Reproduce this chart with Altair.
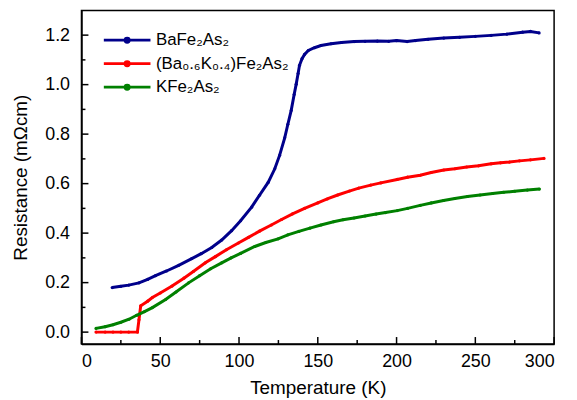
import altair as alt
import pandas as pd

# ---- data ----
ba_T = [19.5, 25, 30, 36.5, 42, 47, 54, 61.7, 70, 76, 82.7, 89, 95.3, 101, 108, 113, 118.5,
        122.7, 125.8, 129, 131, 133.1, 135, 136.3, 137.5, 138.4, 140, 141.6, 144, 147.9, 152,
        158.4, 165, 173.1, 180, 187.8, 195, 200, 206.7, 212, 220, 230, 240, 250, 260, 270,
        280, 285, 290.5]
ba_R = [0.180, 0.185, 0.190, 0.199, 0.213, 0.228, 0.247, 0.270, 0.297, 0.317, 0.342, 0.372,
        0.410, 0.450, 0.505, 0.553, 0.605, 0.660, 0.715, 0.785, 0.840, 0.895, 0.960, 1.002,
        1.045, 1.078, 1.105, 1.122, 1.138, 1.149, 1.158, 1.165, 1.170, 1.174, 1.175, 1.176,
        1.175, 1.178, 1.174, 1.178, 1.183, 1.188, 1.191, 1.195, 1.199, 1.204, 1.212, 1.215,
        1.209]

bk_T = [9.2, 15, 20, 25, 30, 35.5, 36.5, 37.6, 42, 45, 50, 57.5, 65, 71, 78.6, 85, 92, 99.6,
        106, 113, 120.5, 127, 134, 141.6, 150, 156, 162.6, 170, 176, 183.6, 190, 200.4, 207,
        215, 222, 230, 237, 244.5, 252, 260, 266, 271.6, 278, 285, 293.6]
bk_R = [0.0, 0.0, 0.0, 0.0, 0.0, 0.0, 0.05, 0.106, 0.125, 0.140, 0.158, 0.186, 0.218, 0.245,
        0.280, 0.305, 0.333, 0.360, 0.383, 0.408, 0.433, 0.455, 0.478, 0.500, 0.522, 0.538,
        0.554, 0.570, 0.582, 0.594, 0.603, 0.617, 0.626, 0.634, 0.645, 0.655, 0.660, 0.667,
        0.672, 0.680, 0.684, 0.687, 0.692, 0.696, 0.702]

k_T = [9.2, 15, 20, 25, 30.2, 35, 40, 45, 53.4, 60, 68, 75, 82, 89, 95, 101, 110, 117, 124.8,
       131, 138, 145, 152, 160, 166, 173, 180, 187, 193, 200.4, 207, 215, 222, 229.8, 237,
       245, 253, 261, 268, 275, 283, 290.7]
k_R = [0.015, 0.022, 0.030, 0.040, 0.052, 0.068, 0.083, 0.099, 0.132, 0.162, 0.199, 0.228,
       0.256, 0.280, 0.300, 0.318, 0.346, 0.362, 0.377, 0.393, 0.407, 0.420, 0.433, 0.446,
       0.454, 0.461, 0.469, 0.477, 0.483, 0.491, 0.500, 0.512, 0.522, 0.532, 0.540, 0.548,
       0.554, 0.560, 0.565, 0.569, 0.574, 0.578]

series_names = ["BaFe₂As₂", "(Ba₀.₆K₀.₄)Fe₂As₂", "KFe₂As₂"]
series_colors = ["#00008B", "#FF0000", "#008000"]

x_major = [0, 50, 100, 150, 200, 250, 300]
x_minor = [25, 75, 125, 175, 225, 275]
y_major = [0.0, 0.2, 0.4, 0.6, 0.8, 1.0, 1.2]
y_minor = [0.1, 0.3, 0.5, 0.7, 0.9, 1.1]

# ---- build table ----
rows = []
for name, T, R in zip(series_names, [ba_T, bk_T, k_T], [ba_R, bk_R, k_R]):
    for t, r in zip(T, R):
        rows.append({"T": t, "R": r, "series": name, "order": series_names.index(name)})
df = pd.DataFrame(rows)

W, H = 476, 336
FONT = "Liberation Sans"

xscale = alt.Scale(domain=[0, 300], nice=False, zero=False)
yscale = alt.Scale(domain=[-0.048, 1.3], nice=False, zero=False)

axis_style = dict(labelFont=FONT, labelFontSize=18, labelColor="black",
                  titleFont=FONT, titleFontSize=19, titleFontWeight="normal",
                  titleColor="black", domainColor="black", domainWidth=1.5,
                  ticks=False, tickSize=0, grid=False)

color = alt.Color(
    "series:N",
    scale=alt.Scale(domain=series_names, range=series_colors),
    sort=series_names,
    legend=alt.Legend(
        title=None,
        orient="none",
        legendX=21,
        legendY=19,
        padding=0,
        symbolType="M-1,0H1M0.09,0A0.09,0.09,0,1,1,-0.09,0A0.09,0.09,0,1,1,0.09,0",
        symbolSize=2209,
        symbolStrokeWidth=2.8,
        symbolOffset=0,
        clipHeight=22,
        rowPadding=1.7,
        labelOffset=4,
        labelFont=FONT,
        labelFontSize=17,
        labelColor="black",
        labelLimit=400,
    ),
)

base = alt.Chart(df)

lines = base.mark_line(strokeWidth=3).encode(
    x=alt.X("T:Q", scale=xscale,
            axis=alt.Axis(title="Temperature (K)", values=x_major, labelPadding=9,
                          titlePadding=8, **axis_style)),
    y=alt.Y("R:Q", scale=yscale,
            axis=alt.Axis(title="Resistance  (mΩcm)", values=y_major, format=".1f",
                          labelPadding=12, titlePadding=14, **axis_style)),
    color=color,
    detail="order:O",
)

pts = base.mark_circle(size=10, opacity=1).encode(
    x=alt.X("T:Q", scale=xscale),
    y=alt.Y("R:Q", scale=yscale),
    color=alt.Color("series:N", scale=alt.Scale(domain=series_names, range=series_colors),
                    legend=None),
)

xt_major = alt.Chart(pd.DataFrame({"tx": x_major})).mark_rule(
    color="black", strokeWidth=1.5).encode(
    x=alt.X("tx:Q", scale=xscale), y=alt.value(H), y2=alt.value(H - 7))
xt_minor = alt.Chart(pd.DataFrame({"tm": x_minor})).mark_rule(
    color="black", strokeWidth=1.5).encode(
    x=alt.X("tm:Q", scale=xscale), y=alt.value(H), y2=alt.value(H - 4))
yt_major = alt.Chart(pd.DataFrame({"vy": y_major})).mark_rule(
    color="black", strokeWidth=1.5).encode(
    y=alt.Y("vy:Q", scale=yscale), x=alt.value(0), x2=alt.value(7))
yt_minor = alt.Chart(pd.DataFrame({"vm": y_minor})).mark_rule(
    color="black", strokeWidth=1.5).encode(
    y=alt.Y("vm:Q", scale=yscale), x=alt.value(0), x2=alt.value(4))

chart = alt.layer(xt_major, xt_minor, yt_major, yt_minor, lines, pts).properties(
    width=W,
    height=H,
    autosize="none",
    background="white",
    padding={"left": 74, "top": 1, "right": 15, "bottom": 55},
).configure_view(
    stroke="black", strokeWidth=1.5
)

chart.save("out.html", embed_options={"renderer": "svg", "actions": False})
